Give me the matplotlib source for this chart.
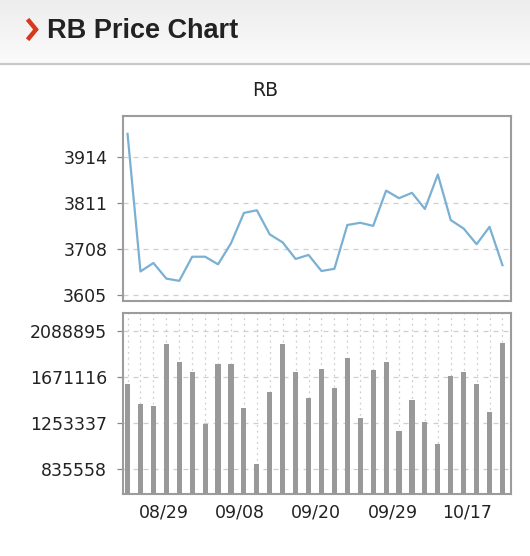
import matplotlib
matplotlib.use("Agg")
import matplotlib.pyplot as plt
import numpy as np
from matplotlib.lines import Line2D

# Price (close) for each trading day
prices = [3965, 3657, 3676, 3641, 3636, 3690, 3690, 3673, 3720, 3788,
          3794, 3740, 3722, 3685, 3694, 3658, 3663, 3761, 3766, 3759,
          3838, 3821, 3833, 3797, 3874, 3772, 3753, 3718, 3757, 3671]

# Volume for each trading day
volumes = [1604800, 1423200, 1405000, 1965400, 1804600, 1713800, 1238800, 1789200, 1789200, 1384100,
           881000, 1529400, 1970900, 1713800, 1474900, 1741100, 1571200, 1838200, 1293300, 1732000,
           1807400, 1180700, 1459500, 1257000, 1059900, 1677500, 1716500, 1607600, 1347800, 1979900]

price_ticks = [3605, 3708, 3811, 3914]
volume_ticks = [835558, 1253337, 1671116, 2088895]
date_labels = ["08/29", "09/08", "09/20", "09/29", "10/17"]
date_pos = [2.8, 8.7, 14.6, 20.5, 26.3]

W, H = 530, 556
fig = plt.figure(figsize=(W / 100, H / 100), dpi=100)
fig.patch.set_facecolor("white")

# Header band with a soft gradient
hdr = fig.add_axes([0, 1 - 63 / H, 1, 63 / H])
hdr.set_axis_off()
grad = np.linspace(0, 1, 64).reshape(-1, 1)
hdr.imshow(grad, aspect="auto", cmap=matplotlib.colors.LinearSegmentedColormap.from_list(
    "hdr", ["#ededed", "#fbfbfb"]), extent=[0, 1, 0, 1])
hdr.set_xlim(0, 1)
hdr.set_ylim(0, 1)
fig.add_artist(Line2D([0, 1], [1 - 64 / H, 1 - 64 / H], color="#c8c8c8", lw=1.6,
                      transform=fig.transFigure))

# Red chevron and page title
fig.add_artist(Line2D([29 / W, 36 / W, 29 / W], [1 - 21 / H, 1 - 29.5 / H, 1 - 38 / H],
                      color="#d8391c", lw=3.2, solid_joinstyle="miter",
                      transform=fig.transFigure))
fig.text(47 / W, 1 - 30.5 / H, "RB Price Chart", fontsize=19.5, fontweight="bold",
         family="Liberation Sans", color="#222222", va="center", ha="left")
fig.text(265 / W, 1 - 91 / H, "RB", fontsize=13.5, color="#222222", ha="center", va="center")

x = np.arange(len(prices))
xlim = (-0.39, 29.66)
frame_color = "#9c9c9c"
grid_color = "#cfcfcf"
tick_font = 12.5

left = 122.5 / W
width = (511 - 122.5) / W

# Price panel
ax1 = fig.add_axes([left, 1 - 300.5 / H, width, (300.5 - 116) / H])
ax1.plot(x, prices, color="#7ab0d4", lw=1.6)
ax1.set_xlim(*xlim)
ax1.set_ylim(3592, 4005)
ax1.set_yticks(price_ticks)
ax1.set_yticklabels([str(v) for v in price_ticks])
ax1.set_xticks([])
ax1.yaxis.grid(True, color=grid_color, ls=(0, (4, 4)), lw=0.9)

# Volume panel
ax2 = fig.add_axes([left, 1 - 494 / H, width, (494 - 312.7) / H])
ax2.bar(x, volumes, width=0.4, color="#999999", zorder=3)
ax2.set_xlim(*xlim)
ax2.set_ylim(605760, 2252373)
ax2.set_yticks(volume_ticks)
ax2.set_yticklabels([str(v) for v in volume_ticks])
ax2.set_xticks(date_pos)
ax2.set_xticklabels(date_labels)
ax2.set_xticks(x, minor=True)
ax2.yaxis.grid(True, color=grid_color, ls=(0, (4, 4)), lw=0.9, zorder=0)
ax2.xaxis.grid(True, which="minor", color=grid_color, ls=(0, (1.5, 3)), lw=0.9, zorder=0)

for ax in (ax1, ax2):
    ax.set_axisbelow(True)
    for s in ax.spines.values():
        s.set_color(frame_color)
        s.set_linewidth(1.5)
    ax.tick_params(axis="y", length=4, width=0.9, color="#888888", pad=7,
                   labelsize=tick_font, labelcolor="#222222")
    ax.tick_params(axis="x", which="both", length=0, pad=7,
                   labelsize=tick_font, labelcolor="#222222")

fig.savefig("out.png", dpi=100)
